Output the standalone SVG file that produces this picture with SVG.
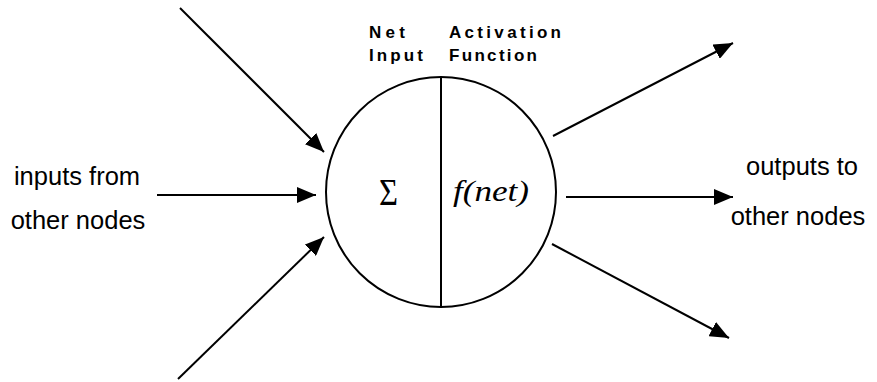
<svg xmlns="http://www.w3.org/2000/svg" width="877" height="382" viewBox="0 0 877 382">
<style>
.ln{stroke:#000;stroke-width:2;fill:none}
.lbl{font-family:"Liberation Sans",Arial,sans-serif;font-size:25.5px;fill:#000}
.hd{font-family:"Liberation Sans",Arial,sans-serif;font-size:17px;font-weight:bold;fill:#000}
.math{font-family:"Liberation Serif","Times New Roman",serif;fill:#000}
</style>
<defs>
<marker id="ah" viewBox="0 0 19 16" refX="19" refY="8" markerWidth="19" markerHeight="16" markerUnits="userSpaceOnUse" orient="auto">
<path d="M0,0 L19,8 L0,16 Z" fill="#000"/>
</marker>
</defs>
<rect width="877" height="382" fill="#fff"/>
<g id="neuron">
<circle cx="441" cy="192" r="115" class="ln"/>
<line x1="441" y1="77" x2="441" y2="307" class="ln"/>
<text x="379" y="205" class="math" font-size="37" textLength="19" lengthAdjust="spacingAndGlyphs">Σ</text>
<text x="453" y="201" class="math" font-size="29" font-style="italic" textLength="76" lengthAdjust="spacingAndGlyphs">f(net)</text>
</g>
<g id="labels-top">
<text x="369" y="38" class="hd" textLength="36" lengthAdjust="spacing">Net</text>
<text x="369" y="61" class="hd" textLength="54" lengthAdjust="spacing">Input</text>
<text x="449" y="38" class="hd" textLength="112" lengthAdjust="spacing">Activation</text>
<text x="449" y="61" class="hd" textLength="88" lengthAdjust="spacing">Function</text>
</g>
<g id="inputs-label">
<text x="77" y="185" class="lbl" text-anchor="middle">inputs from</text>
<text x="78" y="229" class="lbl" text-anchor="middle">other nodes</text>
</g>
<g id="outputs-label">
<text x="802" y="175" class="lbl" text-anchor="middle">outputs to</text>
<text x="798" y="225" class="lbl" text-anchor="middle">other nodes</text>
</g>
<g id="connectors">
<line x1="180" y1="8" x2="324" y2="152" class="ln" marker-end="url(#ah)"/>
<line x1="157" y1="195" x2="316" y2="195" class="ln" marker-end="url(#ah)"/>
<line x1="178" y1="379" x2="324" y2="237" class="ln" marker-end="url(#ah)"/>
<line x1="553" y1="136" x2="733" y2="43" class="ln" marker-end="url(#ah)"/>
<line x1="566" y1="197" x2="733" y2="197" class="ln" marker-end="url(#ah)"/>
<line x1="552" y1="244" x2="729" y2="338" class="ln" marker-end="url(#ah)"/>
</g>
</svg>
